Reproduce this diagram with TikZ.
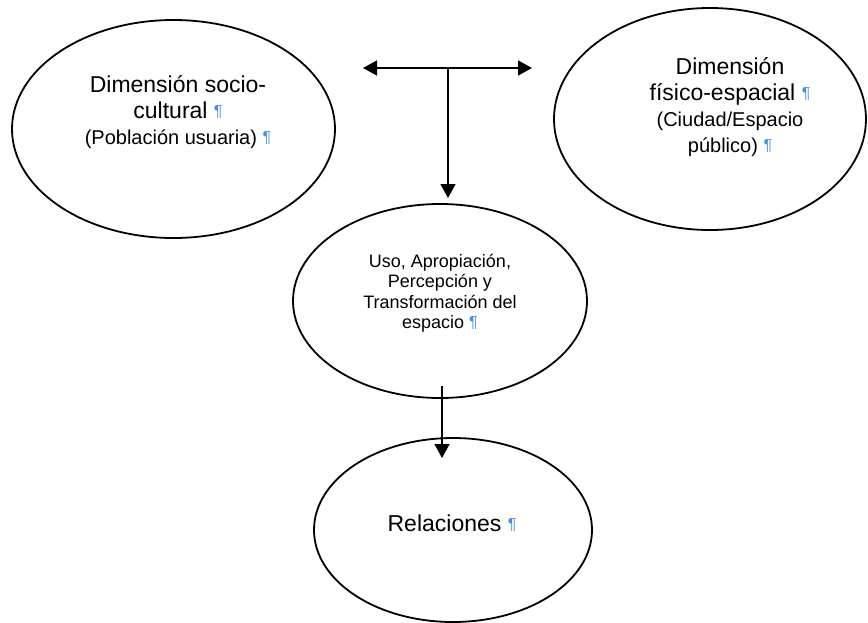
\documentclass[tikz,border=0pt]{standalone}
\usepackage{fontspec}
\setmainfont{Liberation Sans}
\usetikzlibrary{arrows.meta, shapes.geometric}
\definecolor{marca}{RGB}{74,144,226}
\newcommand{\pmark}{{\color{marca}\fontsize{16}{16}\selectfont\raisebox{1.5pt}{¶}}}
\tikzstyle{elipse} = [ellipse, draw, line width=1.8pt, inner sep=0pt]
\tikzstyle{texto} = [align=center, inner sep=0pt]

\begin{document}
\begin{tikzpicture}[
x=1pt, y=-1pt,
flecha/.style = {line width=1.2pt, -{Triangle[length=14pt,width=15pt]}},
grande/.style = {font=\fontsize{23}{26}\selectfont},
chico/.style = {font=\fontsize{18}{20.5}\selectfont},
                        ]
\useasboundingbox (0,0) rectangle (868,622);
% dimensiones
\node [elipse, minimum width=323pt, minimum height=218pt] (socio) at (173.5,129) {};
\node [elipse, minimum width=312pt, minimum height=222pt] (fisico) at (710,119) {};
\node [texto, grande] (socio-txt) at (178,112)
	{Dimensión socio-\\cultural \pmark\\
	{\fontsize{20}{24}\selectfont (Población usuaria) \pmark}};
\node [texto, grande] (fisico-txt) at (730,107)
	{Dimensión\\físico-espacial \pmark\\
	{\fontsize{20}{23}\selectfont (Ciudad/Espacio}\\
	{\fontsize{20}{25}\selectfont público) \pmark}};
% uso
\node [elipse, minimum width=294pt, minimum height=194pt] (uso) at (440,301) {};
\node [texto, chico] (uso-txt) at (440,293)
	{Uso, Apropiación,\\Percepción y\\Transformación del\\espacio \pmark};
% relaciones
\node [elipse, minimum width=278pt, minimum height=184pt] (relac) at (453,530) {};
\node [texto, grande, anchor=base] (relac-txt) at (452,531) {Relaciones \pmark};
% flechas
\coordinate (izq) at (363,68);
\coordinate (der) at (532,68);
\coordinate (cruce) at (448,68);
\coordinate (punta) at (448,198);
\coordinate (salida) at (442,386);
\coordinate (llegada) at (442,458);
\draw [flecha, {Triangle[length=14pt,width=15pt]}-{Triangle[length=14pt,width=15pt]}] (izq) -- (der);
\draw [flecha] (cruce) -- (punta);
\draw [flecha] (salida) -- (llegada);
\end{tikzpicture}
\end{document}
